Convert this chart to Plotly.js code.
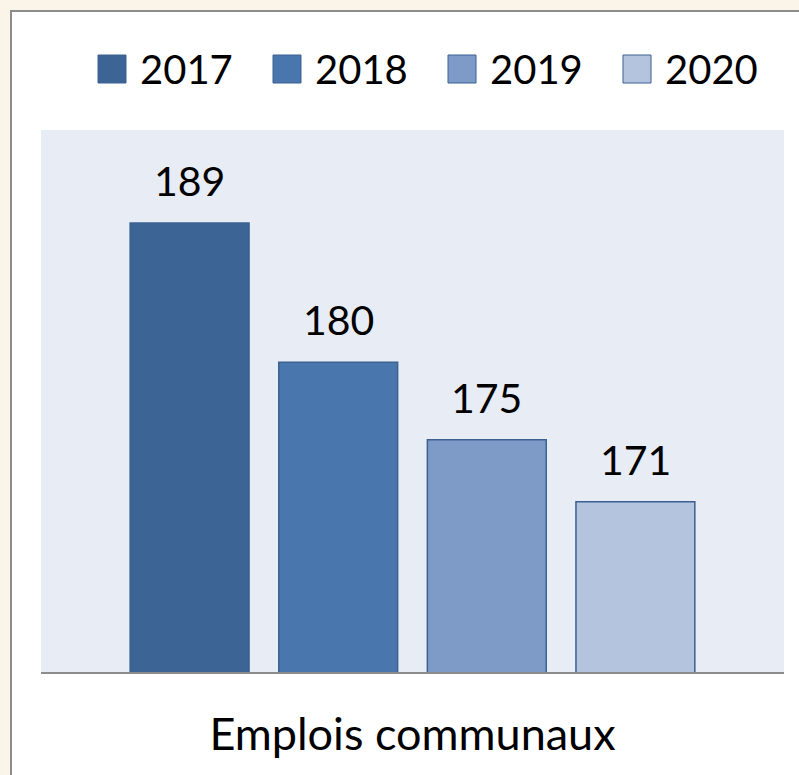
<!DOCTYPE html>
<html>
<head>
<meta charset="utf-8">
<script src="https://cdn.plot.ly/plotly-3.0.1.min.js"></script>
<style>
  html, body { margin: 0; padding: 0; overflow: hidden; background: #fbf4e9; width: 799px; height: 775px; }
  #frame { position: absolute; left: 10px; top: 10px; width: 800px; height: 780px; background: #ffffff;
           border-left: 2px solid #8c8c8c; border-top: 2px solid #8c8c8c; }
  #chart { position: absolute; left: 0; top: 0; width: 799px; height: 775px; }
</style>
</head>
<body>
<div id="frame"></div>
<div id="chart"></div>
<script>
const category = ["Emplois communaux"];
const years = ["2017", "2018", "2019", "2020"];
const values = [189, 180, 175, 171];
const colors = ["#3c6494", "#4a76ae", "#7e9bc8", "#b4c4de"];

const FONT = "Lato, 'Open Sans', sans-serif";
const W = 799, H = 775;
const M = { l: 41, r: 15, t: 130, b: 103 };
const plotW = W - M.l - M.r, plotH = H - M.t - M.b;
const bargap = 0.2, bargroupgap = 0.2;
const slot = plotW * (1 - bargap) / years.length;

const traces = years.map((yr, i) => ({
  type: "bar",
  name: yr,
  x: category,
  y: [values[i]],
  marker: { color: colors[i], line: { color: "#3b6191", width: 1.5 } },
  showlegend: false,
  hoverinfo: "none"
}));

const annotations = years.map((yr, i) => ({
  xref: "x", yref: "y",
  x: category[0], y: values[i],
  xshift: (i - (years.length - 1) / 2) * slot,
  yshift: 16,
  yanchor: "bottom",
  text: String(values[i]),
  showarrow: false,
  font: { family: FONT, size: 41, color: "#000000" }
}));

const shapes = [];
const legStart = 98, legStep = 175, sq = 28, legTop = 55;
const px2x = px => (px - M.l) / plotW;
const py2y = py => (H - M.b - py) / plotH;
years.forEach((yr, i) => {
  const x0 = legStart + i * legStep;
  shapes.push({
    type: "rect", xref: "paper", yref: "paper",
    x0: px2x(x0), x1: px2x(x0 + sq), y0: py2y(legTop + sq), y1: py2y(legTop),
    fillcolor: colors[i], line: { color: "#3b6191", width: 1 }
  });
  annotations.push({
    xref: "paper", yref: "paper",
    x: px2x(x0 + 40), y: py2y(legTop + sq / 2),
    xanchor: "left", yanchor: "middle",
    text: yr, showarrow: false,
    font: { family: FONT, size: 40, color: "#000000" }
  });
});

const layout = {
  width: W, height: H,
  margin: M,
  paper_bgcolor: "rgba(0,0,0,0)",
  plot_bgcolor: "#e8ecf4",
  barmode: "group",
  bargap: bargap,
  bargroupgap: bargroupgap,
  showlegend: false,
  font: { family: FONT, size: 40, color: "#000000" },
  xaxis: {
    type: "category",
    showline: true, linecolor: "#8c8c8c", linewidth: 2,
    ticks: "outside", ticklen: 22, tickcolor: "rgba(0,0,0,0)",
    tickfont: { family: FONT, size: 45, color: "#000000" },
    showgrid: false, zeroline: false
  },
  yaxis: {
    range: [160, 195],
    showticklabels: false, showgrid: false, zeroline: false, showline: false, ticks: ""
  },
  shapes: shapes,
  annotations: annotations
};

Plotly.newPlot("chart", traces, layout, { staticPlot: true, displayModeBar: false });
</script>
</body>
</html>
